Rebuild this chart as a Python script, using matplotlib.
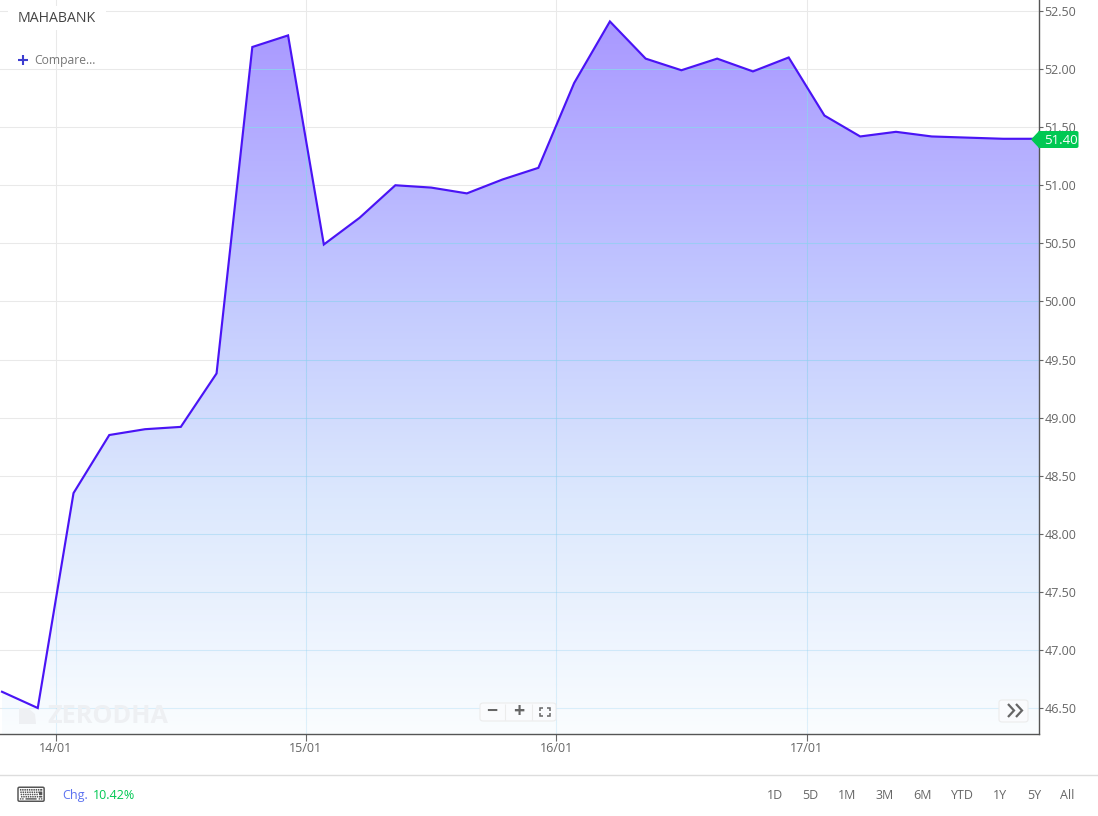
import numpy as np
import matplotlib
matplotlib.use("Agg")
import matplotlib.pyplot as plt
from matplotlib.colors import LinearSegmentedColormap
from matplotlib.patches import Polygon, FancyBboxPatch

plt.rcParams['font.family'] = ['Open Sans', 'DejaVu Sans']

# values
prices = [46.64, 46.50, 48.35, 48.85, 48.90, 48.92, 49.38, 52.19, 52.29, 50.49,
          50.72, 51.00, 50.98, 50.93, 51.05, 51.15, 51.88, 52.41, 52.09, 51.99,
          52.09, 51.98, 52.10, 51.60, 51.42, 51.46, 51.42, 51.41, 51.40, 51.40]
date_pos = [1.5, 8.5, 15.5, 22.5]
date_labels = ["14/01", "15/01", "16/01", "17/01"]
y_ticks = [46.5, 47, 47.5, 48, 48.5, 49, 49.5, 50, 50.5, 51, 51.5, 52, 52.5]
ranges = ["1D", "5D", "1M", "3M", "6M", "YTD", "1Y", "5Y", "All"]
range_x = [775, 810, 847, 885, 922, 962, 1000, 1034, 1067]

W, H = 1098, 816
fig = plt.figure(figsize=(W / 100, H / 100), dpi=100)
ax = fig.add_axes([0, 1 - 734 / H, 1039 / W, 734 / H])

x = np.arange(len(prices))
x0 = -0.056
ax.set_xlim(x0, 29)
y0 = 52.5 - (734 - 11) / 116.17
y1 = 52.5 + 11 / 116.17
ax.set_ylim(y0, y1)

ax.set_yticks(y_ticks)
ax.set_yticklabels(["%.2f" % v for v in y_ticks])
ax.yaxis.tick_right()
ax.set_xticks(date_pos)
ax.set_xticklabels(date_labels)
ax.tick_params(axis="y", labelsize=9, colors="#666666", length=3, width=0.8, pad=1)
ax.tick_params(axis="x", labelsize=9, colors="#666666", length=5, width=0.8, pad=1)
ax.grid(True, color="#e9e9e9", linewidth=0.75)
ax.set_axisbelow(True)
for s in ["top", "left"]:
    ax.spines[s].set_visible(False)
for s in ["right", "bottom"]:
    ax.spines[s].set_color("#555555")
    ax.spines[s].set_linewidth(1)

# gradient area below the line
cmap = LinearSegmentedColormap.from_list(
    "area", [(0.0, "#a998ff"), (0.39, "#c3caff"), (0.67, "#dce8fd"), (1.0, "#fafdff")])
grad = np.linspace(0, 1, 256).reshape(-1, 1)
im = ax.imshow(grad, cmap=cmap, aspect="auto", extent=[x0, 29, y0, max(prices)], zorder=2, origin="upper")
ax.set_xlim(x0, 29)
ax.set_ylim(y0, y1)
poly = Polygon(list(zip(x, prices)) + [(x[-1], y0), (x[0], y0)], closed=True, transform=ax.transData, fc="none", ec="none")
ax.add_patch(poly)
im.set_clip_path(poly)


# grid shows pale blue through the area, fading downwards
def grid_alpha(v):
    return 0.25 + 0.7 * (v - y0) / (y1 - y0)


for v in y_ticks:
    line = ax.axhline(v, color="#8fd0f0", alpha=grid_alpha(v), lw=0.75, zorder=2.5)
    line.set_clip_path(poly)
pieces = np.linspace(y0, y1, 60)
for d in date_pos:
    for a, b in zip(pieces[:-1], pieces[1:]):
        seg, = ax.plot([d, d], [a, b], color="#8fd0f0", alpha=grid_alpha(a), lw=0.75, zorder=2.5,
                       solid_capstyle="butt")
        seg.set_clip_path(poly)

ax.plot(x, prices, color="#4a14f5", linewidth=1.55, zorder=3, solid_joinstyle="miter")


def px(a, b):
    return a / W, 1 - b / H


def icon_line(xs, ys, color="#666666", lw=1.2, zorder=6):
    fig.add_artist(plt.Line2D([a / W for a in xs], [1 - b / H for b in ys], color=color, lw=lw, zorder=zorder,
                              solid_capstyle="butt", solid_joinstyle="miter"))


# last price flag
fig.add_artist(FancyBboxPatch(px(1038, 148), 40.5 / W, 17 / H, boxstyle="round,pad=0,rounding_size=0.002",
                              transform=fig.transFigure, fc="#00c853", ec="none", zorder=4))
fig.add_artist(Polygon([px(1031, 139.5), px(1039, 131), px(1042, 131), px(1042, 148), px(1039, 148)],
                       closed=True, transform=fig.transFigure, fc="#00c853", ec="none", zorder=4))
fig.text(*px(1060.5, 140), "51.40", color="white", fontsize=9.5, ha="center", va="center", zorder=5)

# title and compare
fig.add_artist(plt.Rectangle(px(8, 30), 98 / W, 24 / H, transform=fig.transFigure, fc="white", ec="none", zorder=1))
fig.text(*px(18, 18.5), "MAHABANK", color="#444444", fontsize=10.2, ha="left", va="center", zorder=5)
icon_line([18, 28], [60, 60], color="#3d3dd0", lw=1.5)
icon_line([23, 23], [55, 65], color="#3d3dd0", lw=1.5)
fig.text(*px(34, 60.5), "Compare...", color="#777777", fontsize=8.7, ha="left", va="center")

# watermark
fig.text(*px(47, 716.5), "ZERODHA", color="#eef0f3", fontsize=18.2, fontweight="bold", ha="left", va="center", zorder=3)
fig.add_artist(Polygon([px(19, 708), px(28, 708), px(35, 714), px(36, 724), px(19, 724)], closed=True,
                       transform=fig.transFigure, fc="#eef0f3", ec="none", zorder=3))

# zoom buttons
fig.add_artist(FancyBboxPatch(px(480, 721), 76 / W, 18 / H, boxstyle="round,pad=0,rounding_size=0.003",
                              transform=fig.transFigure, fc="#fafbfd", ec="#ececec", lw=0.8, zorder=4))
icon_line([505, 505], [704, 720], color="#ececec", lw=0.8)
icon_line([532, 532], [704, 720], color="#ececec", lw=0.8)
fig.text(*px(492, 712), "−", color="#666666", fontsize=14, fontweight="bold", ha="center", va="center", zorder=6)
fig.text(*px(518.5, 712), "+", color="#666666", fontsize=14, fontweight="bold", ha="center", va="center", zorder=6)
for sx, sy in [(-1, -1), (1, -1), (1, 1), (-1, 1)]:
    icon_line([545 + sx * 2, 545 + sx * 5, 545 + sx * 5], [712 + sy * 4, 712 + sy * 4, 712 + sy * 1], lw=1.1)

# pan button
fig.add_artist(FancyBboxPatch(px(999, 722), 29 / W, 22 / H, boxstyle="round,pad=0,rounding_size=0.003",
                              transform=fig.transFigure, fc="#fafbfd", ec="#ececec", lw=0.8, zorder=4))
icon_line([1008, 1014, 1008], [704, 710.5, 717], lw=1.6)
icon_line([1016, 1022, 1016], [704, 710.5, 717], lw=1.6)

# bottom bar
fig.add_artist(plt.Line2D([0, 1], [1 - 774.5 / H] * 2, color="#dddddd", lw=1))
fig.text(*px(31, 796), "⌨", color="#555555", fontsize=15, ha="center", va="center")
fig.text(*px(62, 795.5), "Chg.", color="#5c72f0", fontsize=9, ha="left", va="center")
fig.text(*px(93, 795.5), "10.42%", color="#00c853", fontsize=9, ha="left", va="center")
for name, rx in zip(ranges, range_x):
    fig.text(*px(rx, 795.5), name, color="#666666", fontsize=9, ha="center", va="center")

fig.savefig("out.png", dpi=100)
